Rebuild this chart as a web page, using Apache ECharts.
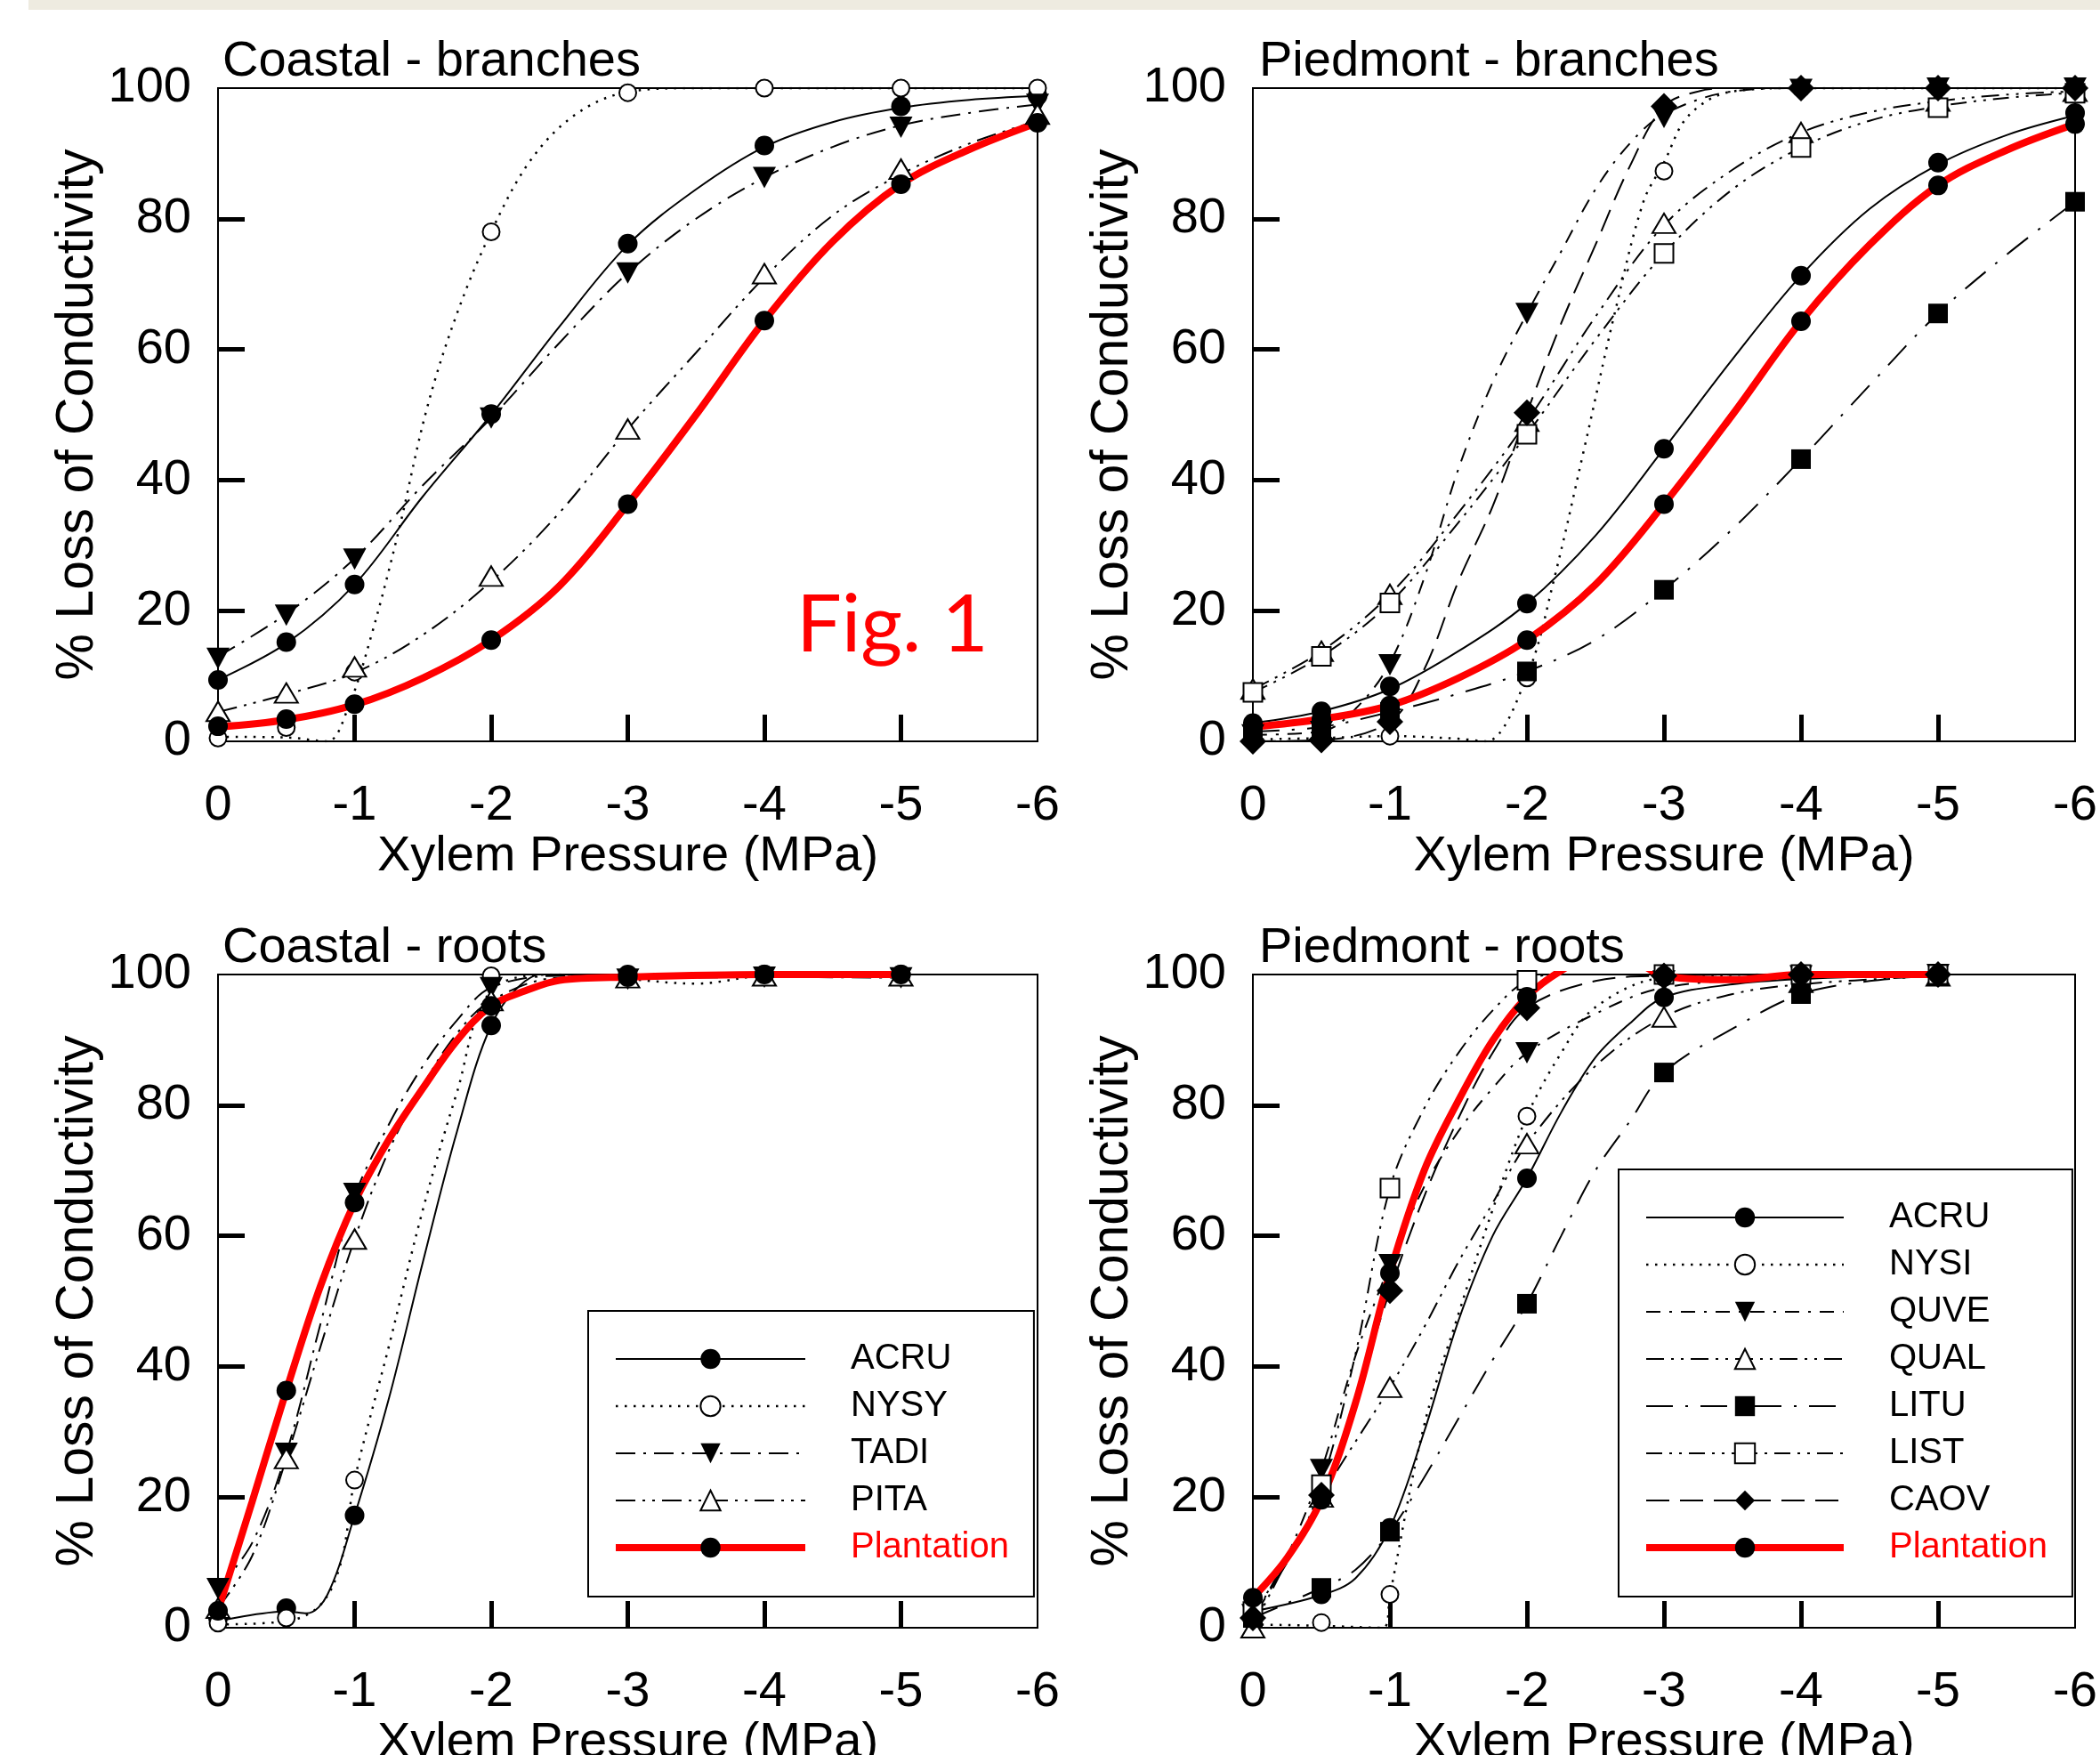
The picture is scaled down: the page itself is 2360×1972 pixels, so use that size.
<!DOCTYPE html>
<html><head><meta charset="utf-8">
<script src="https://cdn.jsdelivr.net/npm/echarts@6/dist/echarts.min.js"></script>
<style>html,body{margin:0;padding:0;background:#fff}#c{width:2360px;height:1972px}</style>
</head><body><div id="c"></div>
<script>
// ---------- axis / label data ----------
const xTicks = [0, -1, -2, -3, -4, -5, -6];
const yTicks = [0, 20, 40, 60, 80, 100];
const xInnerTicks = [-1, -2, -3, -4, -5];
const yInnerTicks = [20, 40, 60, 80];
const panelTitles = ['Coastal - branches', 'Piedmont - branches', 'Coastal - roots', 'Piedmont - roots'];
const xName = 'Xylem Pressure (MPa)';
const yName = '% Loss of Conductivity';
const figLabel = 'Fig. 1';
const coastalSpecies = ['ACRU', 'NYSY', 'TADI', 'PITA', 'Plantation'];
const piedmontSpecies = ['ACRU', 'NYSI', 'QUVE', 'QUAL', 'LITU', 'LIST', 'CAOV', 'Plantation'];

// measurement x positions
const xBranch = [0, -0.5, -1, -2, -3, -4, -5, -6];
const xRoot = [0, -0.5, -1, -2, -3, -4, -5];

// ---------- Coastal - branches: measured points ----------
const cbACRU = [9.4, 15.2, 24.0, 50.1, 76.2, 91.2, 97.2, 98.8];
const cbNYSY = [0.5, 2.1, 10.6, 78, 99.3, 100, 100, 100];
const cbTADI = [12.7, 19.3, 27.9, 49.5, 71.7, 86.3, 94, 97.5];
const cbPITA = [4.6, 7.4, 11.4, 25.3, 47.8, 71.6, 87.6, 96];
const cbPlant = [2.3, 3.4, 5.7, 15.5, 36.3, 64.4, 85.3, 94.7];
// fitted curves [x, y]
const cbFitACRU = [[0,9.4],[-0.5,15],[-1,24],[-1.5,37.5],[-2,50],[-2.5,63.5],[-3,76],[-3.5,84.5],[-4,91],[-4.5,94.8],[-5,97],[-5.5,98.2],[-6,98.8]];
const cbFitNYSY = [[0,0.7],[-0.5,0.6],[-0.8,0],[-0.95,5],[-1.12,16],[-1.32,32],[-1.53,51],[-1.75,65.5],[-2,78],[-2.29,89],[-2.62,96],[-3,99.4],[-3.5,100],[-6,100]];
const cbFitTADI = [[0,13],[-0.5,19.5],[-1,28],[-1.5,39.2],[-2,49.5],[-2.5,61],[-3,71.7],[-3.5,80],[-4,86.3],[-4.5,91],[-5,94.3],[-5.5,96.2],[-6,97.5]];
const cbFitPITA = [[0,4.5],[-0.5,7.2],[-1,10.5],[-1.5,16.3],[-2,24.5],[-2.5,35],[-3,47.8],[-3.5,59.5],[-4,71],[-4.5,80.5],[-5,86.8],[-5.5,91.5],[-6,95]];
const cbFitPlant = [[0,2.2],[-0.5,3.3],[-1,5.6],[-1.5,9.7],[-2,15.5],[-2.5,23.8],[-3,36.3],[-3.5,50],[-4,64.4],[-4.5,76.5],[-5,85.3],[-5.5,90.6],[-6,94.7]];

// ---------- Piedmont - branches ----------
const pbACRU = [2.8, 4.6, 8.4, 21.1, 44.8, 71.3, 88.6, 96.2];
const pbNYSI = [0.3, 0.5, 0.8, 9.7, 87.3, 100, 100, 100];
const pbQUVE = [1, 1.5, 11.7, 65.5, 95.5, 99.8, 100, 100];
const pbQUAL = [8, 13.8, 22.5, 49, 79.3, 93.2, 98, 99.5];
const pbLITU = [1.5, 2, 4.5, 10.7, 23.2, 43.2, 65.5, 82.6];
const pbLIST = [7.5, 13, 21.2, 47, 74.7, 90.9, 97, 99.2];
const pbCAOV = [0, 0.2, 3, 50.3, 97.2, 100, 100, 100];
const pbPlant = [2.3, 3.4, 5.5, 15.5, 36.3, 64.3, 85.1, 94.5];
const pbFitACRU = [[0,2.8],[-0.5,4.6],[-1,8],[-1.5,13.8],[-2,21.1],[-2.5,31.5],[-3,44.8],[-3.5,58.5],[-4,71.3],[-4.5,81.5],[-5,88.3],[-5.5,92.8],[-6,95.8]];
const pbFitNYSI = [[0,0.3],[-0.5,0.5],[-1,0.8],[-1.5,0.4],[-1.7,0],[-2,10],[-2.2,25],[-2.42,45],[-2.64,65.5],[-2.85,82.6],[-3,88.6],[-3.18,95.8],[-3.5,99.5],[-4,100],[-6,100]];
const pbFitQUVE = [[0,1],[-0.5,1.5],[-0.75,5],[-1,12],[-1.25,25],[-1.5,41.7],[-1.75,55],[-2,65.5],[-2.25,75],[-2.5,84.5],[-2.75,91.5],[-3,96],[-3.5,99.5],[-4,100],[-6,100]];
const pbFitQUAL = [[0,8],[-0.5,13.8],[-1,22.5],[-1.5,35],[-2,49],[-2.5,65],[-3,79],[-3.5,87.5],[-4,93.2],[-4.5,96.3],[-5,98],[-5.5,99],[-6,99.5]];
const pbFitLITU = [[0,1.5],[-0.5,2.2],[-1,4.5],[-1.5,7.3],[-2,10.7],[-2.5,15.5],[-3,23.2],[-3.5,32.5],[-4,43.2],[-4.5,54.5],[-5,65.5],[-5.5,74.5],[-6,82.6]];
const pbFitLIST = [[0,7.5],[-0.5,13],[-1,21.2],[-1.5,33.5],[-2,47],[-2.5,61.5],[-3,74.7],[-3.5,84.5],[-4,90.9],[-4.5,95],[-5,97.2],[-5.5,98.5],[-6,99.3]];
const pbFitCAOV = [[0,0],[-0.5,0.2],[-1,3],[-1.25,11],[-1.5,24.5],[-1.75,36],[-2,50.3],[-2.25,64],[-2.5,76],[-2.75,88],[-3,97.2],[-3.25,99.5],[-3.5,100],[-4,100],[-6,100]];
const pbFitPlant = [[0,2.2],[-0.5,3.4],[-1,5.5],[-1.5,9.7],[-2,15.5],[-2.5,24],[-3,36.3],[-3.5,50],[-4,64.3],[-4.5,76],[-5,85.1],[-5.5,90.5],[-6,94.5]];

// ---------- Coastal - roots ----------
const crACRU = [1.5, 3, 17.2, 92.2, 100, 100, 100];
const crNYSY = [0.7, 1.5, 22.6, 99.8, 99.5, 99.8, 100];
const crTADI = [6, 26.7, 66.5, 98, 99.3, 99.6, 99.5];
const crPITA = [3, 25.9, 59.5, 96, 99.5, 99.8, 99.8];
const crPlant = [2.6, 36.3, 65.1, 95.2, 99.6, 100, 100];
const crFitACRU = [[0,1],[-0.5,2.5],[-0.65,2.2],[-0.8,5],[-1,17.2],[-1.25,35],[-1.5,56],[-1.75,76],[-2,92.2],[-2.25,99],[-2.5,100.5],[-3,100.5],[-4,100],[-5,100]];
const crFitNYSY = [[0,0.5],[-0.5,1],[-0.75,3.5],[-0.9,10],[-1,22.6],[-1.25,43],[-1.5,64],[-1.75,82],[-2,97.5],[-2.5,100],[-3,99.3],[-3.5,98.6],[-4,99.8],[-5,100]];
const crFitTADI = [[0,6],[-0.25,13],[-0.5,26.7],[-0.75,46.5],[-1,66],[-1.25,77],[-1.5,86],[-1.75,93],[-2,98],[-2.5,99.8],[-3,99.5],[-4,99.6],[-5,99.5]];
const crFitPITA = [[0,3],[-0.25,11],[-0.5,25.9],[-0.75,43],[-1,59.5],[-1.25,73],[-1.5,83],[-1.75,91],[-2,96],[-2.5,99.5],[-3,99.5],[-4,99.8],[-5,99.8]];
const crFitPlant = [[0,2.6],[-0.25,19.3],[-0.5,36.3],[-0.75,52.3],[-1,65.1],[-1.25,74.7],[-1.5,82.6],[-1.75,89.9],[-2,95.2],[-2.25,97.5],[-2.5,99.1],[-3,99.6],[-4,100],[-5,100]];

// ---------- Piedmont - roots ----------
const prACRU = [3, 5.1, 15.3, 68.8, 96.5, 99.3, 100];
const prNYSI = [1, 0.8, 5.1, 78.3, 99.5, 100, 100];
const prQUVE = [2, 24.2, 55.6, 88, 99, 99.8, 100];
const prQUAL = [0, 20, 36.8, 74.1, 93.5, 98.8, 99.8];
const prLITU = [1.5, 6.1, 14.7, 49.6, 85, 97, 99.8];
const prLIST = [2.5, 21.9, 67.3, 99.1, 100, 100, 100];
const prCAOV = [1.5, 20.3, 51.6, 94.9, 99.8, 100, 100];
const prPlant = [4.6, 19.6, 54.3, 96.6, 99.8, 100, 100];
const prFitACRU = [[0,2.5],[-0.5,5],[-0.75,7.6],[-1,15.3],[-1.25,30],[-1.5,47],[-1.75,60],[-2,68.8],[-2.25,78.9],[-2.5,87.3],[-2.75,92.5],[-3,96.5],[-3.5,98.5],[-4,99.3],[-5,100]];
const prFitNYSI = [[0,0.5],[-0.5,0.3],[-0.95,0],[-1,5],[-1.25,31],[-1.5,48],[-1.75,64],[-2,78.3],[-2.25,88],[-2.5,95],[-3,99.5],[-4,100],[-5,100]];
const prFitQUVE = [[0,1.5],[-0.25,11],[-0.5,24.2],[-0.75,41.7],[-1,55.6],[-1.25,67.5],[-1.5,76],[-1.75,82.6],[-2,88],[-2.5,94],[-3,98],[-4,99.5],[-5,100]];
const prFitQUAL = [[0,0],[-0.5,20],[-1,36.8],[-1.25,46],[-1.5,56],[-1.75,65],[-2,74.1],[-2.5,86],[-3,93.5],[-3.5,97],[-4,98.5],[-5,99.8]];
const prFitLITU = [[0,1.5],[-0.5,6.1],[-0.75,8.9],[-1,14.7],[-1.25,23],[-1.5,32],[-1.75,41],[-2,49.6],[-2.25,60],[-2.5,70],[-2.75,77.5],[-3,85],[-3.5,91.7],[-4,97],[-4.5,99],[-5,99.8]];
const prFitLIST = [[0,2.5],[-0.25,10],[-0.5,21.9],[-0.75,42],[-1,67.3],[-1.25,79.5],[-1.5,88],[-1.75,94.5],[-2,99.1],[-2.25,100],[-3,100],[-4,100],[-5,100]];
const prFitCAOV = [[0,1.5],[-0.5,20.3],[-1,51.6],[-1.25,66],[-1.5,78],[-1.75,88],[-2,94.9],[-2.5,99],[-3,99.8],[-4,100],[-5,100]];
const prFitPlant = [[0,4.6],[-0.25,10.7],[-0.5,19.6],[-0.75,34.5],[-1,54.3],[-1.25,70],[-1.5,80.7],[-1.75,89.9],[-2,96.6],[-2.25,100.6],[-2.5,103],[-2.75,102.5],[-3,99.8],[-3.5,99.2],[-4,100],[-5,100]];

// ---------- styles ----------
const FONT = 'Liberation Sans';
const speciesStyle = {
  ACRU: {symbol: 'circle', size: 22, dash: 'solid', width: 2},
  NYSY: {symbol: 'emptyCircle', size: 19, dash: [2.5, 7.5], width: 2.5},
  NYSI: {symbol: 'emptyCircle', size: 19, dash: [2.5, 7.5], width: 2.5},
  TADI: {symbol: 'triangle', rotate: 180, size: [26, 24], dash: [22, 9, 3, 9], width: 2},
  PITA: {symbol: 'emptyTriangle', size: [26, 22], dash: [22, 8, 3, 8, 3, 8], width: 2},
  QUVE: {symbol: 'triangle', rotate: 180, size: [26, 24], dash: [16, 10, 3, 10], width: 2},
  QUAL: {symbol: 'emptyTriangle', size: [26, 22], dash: [20, 8, 3, 8, 3, 8], width: 2},
  LITU: {symbol: 'rect', size: 22, dash: [30, 14, 3, 14], width: 2},
  LIST: {symbol: 'emptyRect', size: 21, dash: [18, 8, 3, 8, 3, 8], width: 2},
  CAOV: {symbol: 'diamond', size: [30, 30], dash: [26, 12], width: 2},
  Plantation: {symbol: 'circle', size: 22, dash: 'solid', width: 8, color: '#ff0000'}
};

const panels = [
  {xs: xBranch, names: coastalSpecies,
   marks: {ACRU: cbACRU, NYSY: cbNYSY, TADI: cbTADI, PITA: cbPITA, Plantation: cbPlant},
   fits: {ACRU: cbFitACRU, NYSY: cbFitNYSY, TADI: cbFitTADI, PITA: cbFitPITA, Plantation: cbFitPlant}},
  {xs: xBranch, names: piedmontSpecies,
   marks: {ACRU: pbACRU, NYSI: pbNYSI, QUVE: pbQUVE, QUAL: pbQUAL, LITU: pbLITU, LIST: pbLIST, CAOV: pbCAOV, Plantation: pbPlant},
   fits: {ACRU: pbFitACRU, NYSI: pbFitNYSI, QUVE: pbFitQUVE, QUAL: pbFitQUAL, LITU: pbFitLITU, LIST: pbFitLIST, CAOV: pbFitCAOV, Plantation: pbFitPlant}},
  {xs: xRoot, names: coastalSpecies,
   marks: {ACRU: crACRU, NYSY: crNYSY, TADI: crTADI, PITA: crPITA, Plantation: crPlant},
   fits: {ACRU: crFitACRU, NYSY: crFitNYSY, TADI: crFitTADI, PITA: crFitPITA, Plantation: crFitPlant}},
  {xs: xRoot, names: piedmontSpecies,
   marks: {ACRU: prACRU, NYSI: prNYSI, QUVE: prQUVE, QUAL: prQUAL, LITU: prLITU, LIST: prLIST, CAOV: prCAOV, Plantation: prPlant},
   fits: {ACRU: prFitACRU, NYSI: prFitNYSI, QUVE: prFitQUVE, QUAL: prFitQUAL, LITU: prFitLITU, LIST: prFitLIST, CAOV: prFitCAOV, Plantation: prFitPlant}}
];

// grid layout (pixels)
const gridBoxes = [
  {left: 245, top: 99, width: 921, height: 734},
  {left: 1408, top: 99, width: 924, height: 734},
  {left: 245, top: 1095, width: 921, height: 734},
  {left: 1408, top: 1095, width: 924, height: 734}
];
const titlePos = [[250, 42], [1415, 42], [250, 1038], [1415, 1038]];

const grids = [], xAxes = [], yAxes = [], lineSeries = [], markSeries = [];
panels.forEach((p, gi) => {
  grids.push(Object.assign({show: true, borderColor: '#000', borderWidth: 2, containLabel: false, outerBoundsMode: 'none'}, gridBoxes[gi]));
  xAxes.push({
    type: 'value', gridIndex: gi, inverse: true, min: xTicks[xTicks.length - 1], max: xTicks[0], interval: 1,
    axisLine: {show: false}, splitLine: {show: false},
    axisTick: {show: true, inside: true, length: 30, customValues: xInnerTicks, lineStyle: {width: 5, color: '#000'}},
    axisLabel: {fontSize: 56, fontFamily: FONT, color: '#000', margin: 45},
    name: xName, nameLocation: 'middle', nameGap: 99,
    nameTextStyle: {fontSize: 56, fontFamily: FONT, color: '#000'}
  });
  yAxes.push({
    type: 'value', gridIndex: gi, min: yTicks[0], max: yTicks[yTicks.length - 1], interval: 20,
    axisLine: {show: false}, splitLine: {show: false},
    axisTick: {show: true, inside: true, length: 30, customValues: yInnerTicks, lineStyle: {width: 5, color: '#000'}},
    axisLabel: {fontSize: 56, fontFamily: FONT, color: '#000', margin: 30, padding: [12, 0, 0, 0]},
    name: yName, nameLocation: 'middle', nameGap: 124, nameRotate: 90,
    nameTextStyle: {fontSize: 59, fontFamily: FONT, color: '#000'}
  });
  p.names.forEach(n => {
    const st = speciesStyle[n];
    const isPlant = n === 'Plantation';
    lineSeries.push({
      type: 'line', name: n, xAxisIndex: gi, yAxisIndex: gi, data: p.fits[n],
      smooth: 0.35, showSymbol: false, symbol: st.symbol, symbolSize: st.size, symbolRotate: st.rotate || 0,
      clip: true, silent: true, z: isPlant ? 4 : 2,
      lineStyle: {color: st.color || '#000', width: st.width, type: st.dash, cap: 'butt'},
      itemStyle: {color: '#000'}
    });
    markSeries.push({
      type: 'scatter', name: n, xAxisIndex: gi, yAxisIndex: gi,
      data: p.xs.map((x, i) => [x, p.marks[n][i]]),
      symbol: st.symbol, symbolSize: st.size, symbolRotate: st.rotate || 0,
      clip: false, silent: true, z: 6,
      itemStyle: {color: '#000', opacity: 1}
    });
  });
});

const legendCommon = {
  orient: 'vertical', itemHeight: 28, itemGap: 13, selectedMode: false,
  borderColor: '#000', borderWidth: 2, backgroundColor: '#fff', padding: [34, 28, 35, 27],
  lineStyle: {width: 'inherit'},
  textStyle: {fontSize: 40, fontFamily: FONT, color: '#000', padding: [0, 0, 0, 46]}
};
const toLegendData = names => names.map(n => n === 'Plantation' ? {name: n, textStyle: {color: '#ff0000'}} : {name: n});

const option = {
  animation: false,
  backgroundColor: '#fff',
  grid: grids, xAxis: xAxes, yAxis: yAxes,
  title: panelTitles.map((t, i) => ({
    text: t, left: titlePos[i][0], top: titlePos[i][1], padding: 0,
    textStyle: {fontSize: 56, fontWeight: 'normal', fontFamily: FONT, color: '#000'}
  })).concat([{
    text: figLabel, left: 895, top: 658, padding: 0,
    textStyle: {fontSize: 90, fontWeight: 'normal', fontFamily: 'Lato', color: '#ff0000'}
  }]),
  legend: [
    Object.assign({}, legendCommon, {left: 661, top: 1473, itemWidth: 213, data: toLegendData(coastalSpecies)}),
    Object.assign({}, legendCommon, {left: 1819, top: 1314, itemWidth: 222, data: toLegendData(piedmontSpecies)})
  ],
  graphic: [{type: 'rect', left: 32, top: 0, shape: {width: 2328, height: 11}, style: {fill: '#EEEBE0'}, silent: true}],
  series: lineSeries.concat(markSeries)
};

const chart = echarts.init(document.getElementById('c'), null, {renderer: 'canvas'});
chart.setOption(option);
</script></body></html>
